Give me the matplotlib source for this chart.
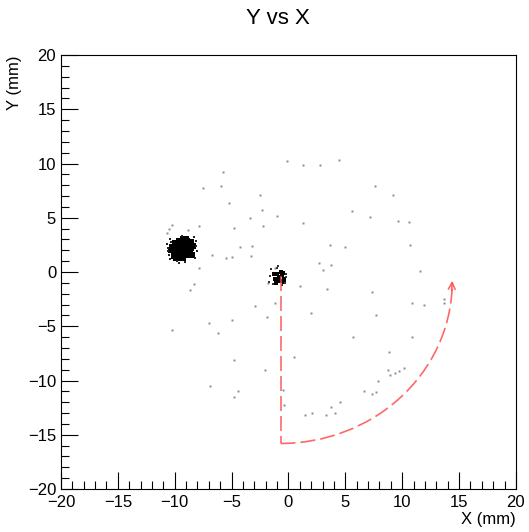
import matplotlib
matplotlib.use("Agg")
import matplotlib.pyplot as plt
from matplotlib.patches import Arc
from matplotlib.ticker import MultipleLocator

plt.rcParams['font.family'] = ['Liberation Sans', 'DejaVu Sans']

# scattered hits (mm)
x_hits = [-0.09, 1.29, 2.73, 4.43, -5.75, -5.9, -7.5, -5.26, -2.49, -2.32, -3.35, -1.03,
          -2.26, 1.29, -4.79, 7.6, 9.19, 5.61, 7.19, 9.63, 10.6, -4.26, -3.2, -6.7, -5.46,
          -4.96, -3.32, 3.61, 4.93, 10.72, -7.9, 2.7, 3.7, 3.02, 11.54, -1.15, -10.25,
          -10.5, -10.7, -8.8, -7.84, -8.34, -8.7, -1.82, 1.0, 3.41, 7.31, 10.84, 11.9,
          13.68, 13.68, -2.9, -1.17, 1.97, 7.67, -1.88, -4.96, -6.96, -10.28, -6.19, 5.64,
          10.9, 8.84, 0.47, -4.79, -2.06, 8.75, 8.9, 9.4, 9.75, 10.19, 7.9, 6.67, 7.37,
          7.67, -6.93, -4.47, -4.79, -0.44, -0.41, 4.52, 3.76, 1.41, 2.11, 3.32, 4.08]
y_hits = [10.2, 9.89, 9.83, 10.29, 9.2, 7.95, 7.74, 6.33, 7.07, 5.74, 4.98, 5.13,
          4.27, 4.52, 4.06, 7.9, 7.13, 5.59, 5.1, 4.67, 4.64, 2.3, 2.4, 1.6, 1.29,
          1.35, 1.5, 2.46, 2.3, 2.46, 0.34, 0.86, 0.68, 0.21, 0.09, 0.4, 4.3,
          3.96, 3.6, 3.84, 4.2, -1.1, -1.69, -1.04, -1.26, -1.6, -1.87, -2.9, -3.07,
          -2.49, -2.9, -3.16, -2.83, -3.78, -3.96, -4.12, -4.42, -4.67, -5.35, -5.62, -5.99,
          -5.96, -7.34, -7.83, -8.14, -9.0, -9.03, -9.49, -9.34, -9.09, -8.85, -10.0, -11.0, -11.27,
          -11.06, -10.54, -11.0, -11.55, -10.9, -12.23, -12.0, -12.44, -13.15, -12.97, -13.18, -12.97]

# dense beam spot near (-9.4, 2.2)
x_spot = [-10.2, -10.0, -9.9, -9.8, -9.7, -9.6, -9.5, -9.4, -9.3, -9.2, -9.1, -9.0,
          -8.9, -8.8, -8.7, -8.6, -8.5, -9.6, -10.1, -8.4, -9.3, -10.3, -9.9, -9.2,
          -8.9, -9.5, -9.0, -8.6, -10.0, -9.7]
y_spot = [2.3, 1.8, 2.6, 2.1, 1.5, 2.9, 2.4, 1.8, 1.3, 2.7, 2.2, 3.0,
          1.6, 2.5, 2.0, 2.8, 1.6, 1.3, 1.5, 2.4, 3.0, 2.0, 1.3, 1.7,
          2.9, 2.0, 2.5, 2.2, 2.7, 2.5]
x_spot_edge = [-10.6, -10.5, -10.4, -8.1, -8.2, -9.1, -9.8, -8.3, -10.6, -9.4, -8.0, -10.3,
               -10.7, -8.15, -9.6, -10.45]
y_spot_edge = [2.2, 1.6, 3.0, 2.4, 1.3, 0.95, 1.0, 3.2, 1.9, 3.3, 1.9, 2.8,
               2.6, 2.9, 0.8, 1.2]

# small spot near the origin
x_core = [-1.0, -0.8, -0.6, -0.9, -0.6, -1.2, -0.4, -0.7, -1.1, -0.5, -1.3, -0.35]
y_core = [-0.2, -0.5, -0.3, -0.8, -0.8, -0.6, -0.6, 0.0, -1.0, -0.1, -0.2, -0.9]
x_core_edge = [-1.6, -1.5, -0.2, -0.3, -1.4, -0.9, -0.6, -1.7, -1.0, -0.25]
y_core_edge = [-0.4, 0.3, -0.2, -1.0, -1.1, 0.6, -1.2, -0.9, 0.35, -0.5]

# rotation arrow: from spot straight down, then round to the right
arc_center = (-0.7, -0.9)
arc_rx, arc_ry = 15.1, 14.9

fig = plt.figure(figsize=(5.29, 5.32), dpi=100)
ax = fig.add_axes([0.1153, 0.0808, 0.860, 0.8158])

ax.plot(x_hits, y_hits, 's', ms=1.4, mew=0, color='#8a8a8a')
ax.plot(x_spot, y_spot, 's', ms=5.0, mew=0, color='black')
ax.plot(x_spot_edge, y_spot_edge, 's', ms=2.0, mew=0, color='#222222')
ax.plot(x_core, y_core, 's', ms=3.5, mew=0, color='black')
ax.plot(x_core_edge, y_core_edge, 's', ms=1.6, mew=0, color='#333333')

red = (1.0, 0.3, 0.3, 0.85)
ax.plot([arc_center[0], arc_center[0]], [arc_center[1] + 0.5, arc_center[1] - arc_ry],
        color=red, lw=1.2, linestyle=(0, (9, 3)))
ax.add_patch(Arc(arc_center, 2 * arc_rx, 2 * arc_ry, theta1=270, theta2=358,
                 color=red, lw=1.2, linestyle=(0, (9, 3))))
ax.annotate('', xy=(arc_center[0] + arc_rx, arc_center[1] + 0.1),
            xytext=(arc_center[0] + arc_rx - 0.05, arc_center[1] - 0.8),
            arrowprops=dict(arrowstyle='->', color=red, lw=1.2,
                            mutation_scale=12, shrinkA=0, shrinkB=0))

ax.set_xlim(-20, 20)
ax.set_ylim(-20, 20)
ax.xaxis.set_major_locator(MultipleLocator(5))
ax.xaxis.set_minor_locator(MultipleLocator(1))
ax.yaxis.set_major_locator(MultipleLocator(5))
ax.yaxis.set_minor_locator(MultipleLocator(1))
ax.tick_params(which='both', direction='in', top=False, right=False, labelsize=12)
ax.tick_params(which='major', length=12, width=0.8)
ax.tick_params(which='minor', length=6, width=0.8)
ax.tick_params(axis='x', pad=4)
for s in ax.spines.values():
    s.set_linewidth(0.8)

ax.set_xlabel('X (mm)', fontsize=12, loc='right', labelpad=2)
ax.set_ylabel('Y (mm)', fontsize=12, loc='top', labelpad=4)
fig.text(0.525, 0.965, 'Y vs X', ha='center', va='center', fontsize=16)

fig.savefig('out.png', dpi=100)
